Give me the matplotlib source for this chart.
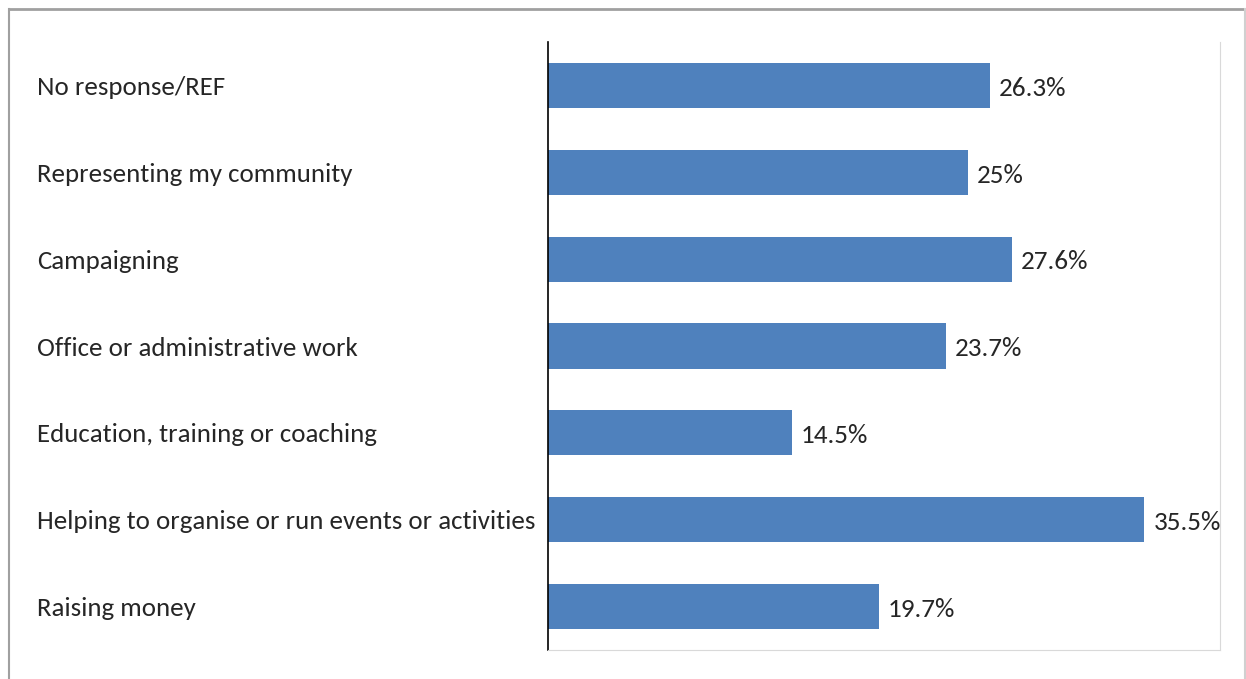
import matplotlib.pyplot as plt
from matplotlib.lines import Line2D
import matplotlib.font_manager as fm

categories = [
    "No response/REF",
    "Representing my community",
    "Campaigning",
    "Office or administrative work",
    "Education, training or coaching",
    "Helping to organise or run events or activities",
    "Raising money",
]
values = [26.3, 25.0, 27.6, 23.7, 14.5, 35.5, 19.7]
value_labels = ["26.3%", "25%", "27.6%", "23.7%", "14.5%", "35.5%", "19.7%"]

names = {f.name for f in fm.fontManager.ttflist}
if "Carlito" in names:
    family, lab_size, val_size = "Carlito", 19.4, 19.5
else:
    family, lab_size, val_size = "Lato", 18.2, 18
plt.rcParams['font.family'] = [family, 'DejaVu Sans']

W, H = 1246, 679
fig = plt.figure(figsize=(W / 100, H / 100), dpi=100)
ax = fig.add_axes([548 / W, 1 - 650 / H, (1220 - 548) / W, (650 - 42) / H])

ys = list(range(len(categories)))
ax.barh(ys, values, height=0.52, color='#4F81BD')
for y, v, lab in zip(ys, values, value_labels):
    ax.annotate(lab, (v, y), xytext=(6.5, -2), textcoords='offset points',
                va='center', ha='left', fontsize=val_size, color='#262626')

ax.set_xlim(0, 40)
ax.set_ylim(len(categories) - 0.5, -0.5)
ax.set_xticks([])
ax.set_yticks(ys)
ax.set_yticklabels(categories, fontsize=lab_size, color='#262626')
ax.tick_params(axis='y', length=0, pad=(548 - 37) * 0.72)
for t in ax.get_yticklabels():
    t.set_horizontalalignment('left')

ax.spines['top'].set_visible(False)
ax.spines['left'].set_color('#000000')
ax.spines['left'].set_linewidth(1.2)
ax.spines['right'].set_color('#D9D9D9')
ax.spines['bottom'].set_color('#D9D9D9')

# outer frame
fr = fig.transFigure
fig.add_artist(Line2D([9 / W, 1245 / W], [1 - 9 / H, 1 - 9 / H], transform=fr, color='#A0A0A0', lw=2))
fig.add_artist(Line2D([9 / W, 9 / W], [0, 1 - 9 / H], transform=fr, color='#A0A0A0', lw=1.5))
fig.add_artist(Line2D([1245 / W, 1245 / W], [0, 1 - 9 / H], transform=fr, color='#D0D0D0', lw=1.5))

fig.savefig('out.png', dpi=100)
